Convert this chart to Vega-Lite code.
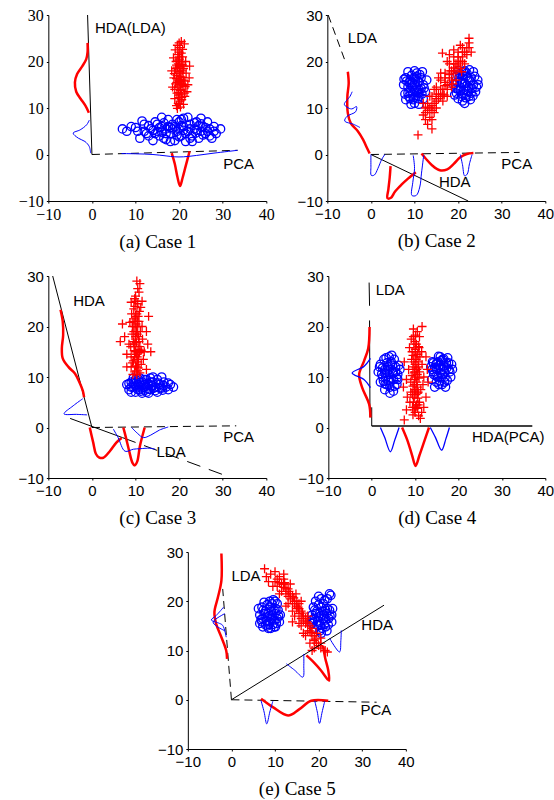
{
"$schema":"https://vega.github.io/schema/vega-lite/v6.json",
"padding":{"left":17,"top":7,"right":5,"bottom":5},
"config":{"view":{"stroke":null},"axis":{"grid":false,"labelFlush":false,"domainColor":"#000","domainWidth":1,"tickColor":"#000","tickSize":2,"labelPadding":3,"labelColor":"#000","labelFont":"Liberation Sans","labelFontSize":15,"titleFont":"Liberation Serif","titleFontSize":19,"titleFontWeight":"normal","titleColor":"#000","titlePadding":10}},
"datasets":{
"a":[
{"k":"s","g":1,"x":0,"y":0},{"k":"s","g":1,"x":-1,"y":30},
{"k":"d","g":2,"x":0,"y":0},{"k":"d","g":2,"x":33.4,"y":0.9},
{"k":"r","g":3,"x":-1,"y":24},{"k":"r","g":3,"x":-1,"y":22},{"k":"r","g":3,"x":-1.3,"y":20.5},{"k":"r","g":3,"x":-2.2,"y":19},{"k":"r","g":3,"x":-3.4,"y":17.3},{"k":"r","g":3,"x":-3.9,"y":15.5},{"k":"r","g":3,"x":-3.6,"y":13.5},{"k":"r","g":3,"x":-2.6,"y":12},{"k":"r","g":3,"x":-1.5,"y":10.5},{"k":"r","g":3,"x":-0.7,"y":9},
{"k":"bl","g":4,"x":-0.6,"y":7.4},{"k":"bl","g":4,"x":-1.2,"y":6.4},{"k":"bl","g":4,"x":-2.7,"y":5.3},{"k":"bl","g":4,"x":-4.3,"y":4.6},{"k":"bl","g":4,"x":-3.1,"y":3.5},{"k":"bl","g":4,"x":-1.6,"y":2.8},{"k":"bl","g":4,"x":-0.6,"y":1.7},{"k":"bl","g":4,"x":-0.3,"y":0.3},
{"k":"bl","g":5,"x":6.8,"y":0.2},{"k":"bl","g":5,"x":10,"y":0.15},{"k":"bl","g":5,"x":14,"y":0},{"k":"bl","g":5,"x":17,"y":-0.3},{"k":"bl","g":5,"x":19,"y":-0.5},{"k":"bl","g":5,"x":21,"y":-0.5},{"k":"bl","g":5,"x":24,"y":-0.2},{"k":"bl","g":5,"x":28,"y":0.3},{"k":"bl","g":5,"x":33.4,"y":0.9},
{"k":"r","g":6,"x":18.3,"y":0.3},{"k":"r","g":6,"x":19,"y":-2},{"k":"r","g":6,"x":19.6,"y":-4.8},{"k":"r","g":6,"x":20.2,"y":-6.8},{"k":"r","g":6,"x":20.8,"y":-5},{"k":"r","g":6,"x":21.5,"y":-2.5},{"k":"r","g":6,"x":22.4,"y":0.7},
{"k":"t","x":0.7,"y":27.1,"label":"HDA(LDA)"},{"k":"t","x":30.1,"y":-2.0,"label":"PCA"},
{"k":"rp","x":20,"y":15},{"k":"rp","x":19.5,"y":17},{"k":"rp","x":20.5,"y":13},{"k":"rp","x":21,"y":16},{"k":"rp","x":19,"y":14},{"k":"rp","x":20.2,"y":19},{"k":"rp","x":19.8,"y":11},{"k":"rp","x":20.8,"y":21},{"k":"rp","x":19.3,"y":20},{"k":"rp","x":21.3,"y":12.5},{"k":"rp","x":20,"y":22},{"k":"rp","x":19.6,"y":23.5},{"k":"rp","x":20.5,"y":24.3},{"k":"rp","x":21.2,"y":23.8},{"k":"rp","x":19,"y":12},{"k":"rp","x":18.8,"y":16.5},{"k":"rp","x":21.6,"y":17.5},{"k":"rp","x":22,"y":15},{"k":"rp","x":18.5,"y":14.5},{"k":"rp","x":20.3,"y":10.2},{"k":"rp","x":19.4,"y":10.5},{"k":"rp","x":21,"y":10.8},{"k":"rp","x":20.7,"y":18},{"k":"rp","x":19.9,"y":16},{"k":"rp","x":20.4,"y":14},{"k":"rp","x":19.2,"y":18.5},{"k":"rp","x":21.5,"y":20},{"k":"rp","x":20,"y":12.2},{"k":"rp","x":20.9,"y":14.8},{"k":"rp","x":19.7,"y":21.5},{"k":"rp","x":22.4,"y":19},{"k":"rp","x":18.3,"y":18},{"k":"rp","x":20.1,"y":20.5},{"k":"rp","x":21.8,"y":13.5},{"k":"rp","x":19.1,"y":22.5},{"k":"rp","x":20.6,"y":11.8},{"k":"rp","x":20.2,"y":16.8},{"k":"rp","x":19.5,"y":13.2},{"k":"rp","x":21.1,"y":19},{"k":"rp","x":18.7,"y":20.8},{"k":"rp","x":22.3,"y":16.5},{"k":"rp","x":20,"y":24},{"k":"rp","x":19.6,"y":9.9},{"k":"rp","x":21.4,"y":14.6},{"k":"rp","x":20.8,"y":22.6},
{"k":"rp","x":20,"y":18},{"k":"rp","x":20.5,"y":16},{"k":"rp","x":19.5,"y":15.5},{"k":"rp","x":20.3,"y":13.8},{"k":"rp","x":19.8,"y":19.5},{"k":"rp","x":20.6,"y":20},{"k":"rp","x":19.9,"y":12.8},{"k":"rp","x":20.4,"y":17.5},{"k":"rp","x":19.4,"y":16.3},{"k":"rp","x":21,"y":18.5},{"k":"rp","x":20,"y":21},{"k":"rp","x":20.7,"y":15.2},{"k":"rp","x":19.6,"y":18.8},{"k":"rp","x":20.2,"y":11.5},{"k":"rp","x":21.2,"y":13.2},
{"k":"rp","x":19.7,"y":14.5},{"k":"rp","x":20.3,"y":15.7},{"k":"rp","x":20.1,"y":17.8},{"k":"rp","x":19.9,"y":13.3},{"k":"rp","x":20.6,"y":12.3},{"k":"rp","x":19.4,"y":19.2},{"k":"rp","x":20.5,"y":21.8},{"k":"rp","x":20,"y":10.8},{"k":"rp","x":20.9,"y":16.6},{"k":"rp","x":19.2,"y":15.2},{"k":"rp","x":20.2,"y":23},{"k":"rp","x":19.8,"y":20.3},{"k":"rp","x":21.3,"y":15.8},{"k":"rp","x":18.9,"y":17.4},{"k":"rp","x":20.7,"y":19.3},
{"k":"bc","x":7,"y":5.5},{"k":"bc","x":8,"y":5},{"k":"bc","x":9,"y":6},{"k":"bc","x":10.5,"y":5},{"k":"bc","x":11,"y":3.5},{"k":"bc","x":12,"y":6.5},{"k":"bc","x":12.5,"y":4.5},{"k":"bc","x":13.5,"y":5.5},{"k":"bc","x":14,"y":3},{"k":"bc","x":14.5,"y":7},{"k":"bc","x":15,"y":5},{"k":"bc","x":15.5,"y":4},{"k":"bc","x":16,"y":6},{"k":"bc","x":16.5,"y":3.5},{"k":"bc","x":17,"y":5.5},{"k":"bc","x":17.5,"y":7.5},{"k":"bc","x":18,"y":4.5},{"k":"bc","x":18.5,"y":6.5},{"k":"bc","x":19,"y":3},{"k":"bc","x":19.5,"y":5},{"k":"bc","x":20,"y":7},{"k":"bc","x":20.5,"y":4},{"k":"bc","x":21,"y":6},{"k":"bc","x":21.5,"y":2.8},{"k":"bc","x":22,"y":5},{"k":"bc","x":22,"y":8},{"k":"bc","x":22.5,"y":6.5},{"k":"bc","x":23,"y":4},{"k":"bc","x":23.5,"y":5.5},{"k":"bc","x":24,"y":7},{"k":"bc","x":24.5,"y":3.5},{"k":"bc","x":25,"y":5},{"k":"bc","x":25.5,"y":6},{"k":"bc","x":26,"y":4.5},{"k":"bc","x":26.5,"y":7},{"k":"bc","x":27,"y":5.5},{"k":"bc","x":27.5,"y":3.5},{"k":"bc","x":28,"y":6},{"k":"bc","x":28.5,"y":4.5},{"k":"bc","x":29.5,"y":5.5},{"k":"bc","x":11.5,"y":7.2},{"k":"bc","x":13,"y":4},{"k":"bc","x":16,"y":8},{"k":"bc","x":18,"y":2.8},{"k":"bc","x":20,"y":5.5},{"k":"bc","x":21,"y":7.8},{"k":"bc","x":23,"y":2.8},{"k":"bc","x":25,"y":7.8},{"k":"bc","x":27,"y":4},{"k":"bc","x":19,"y":6},{"k":"bc","x":17,"y":4.5},{"k":"bc","x":15,"y":6.5},{"k":"bc","x":20,"y":3.8},{"k":"bc","x":14,"y":5.2},{"k":"bc","x":24,"y":5.2},
{"k":"bc","x":18.5,"y":5.5},{"k":"bc","x":21.5,"y":4.5},{"k":"bc","x":22.5,"y":5.5},{"k":"bc","x":17.5,"y":6},{"k":"bc","x":19.5,"y":7.5},{"k":"bc","x":23.5,"y":6.8},{"k":"bc","x":16,"y":4.8},{"k":"bc","x":25.5,"y":4.2},{"k":"bc","x":24.5,"y":6.2},{"k":"bc","x":20.5,"y":6.2},{"k":"bc","x":13,"y":6.2},{"k":"bc","x":26,"y":5.8},
{"k":"bc","x":10,"y":5.8},{"k":"bc","x":12,"y":5},{"k":"bc","x":14.5,"y":4.5},{"k":"bc","x":16.5,"y":6.8},{"k":"bc","x":18,"y":5.8},{"k":"bc","x":19.5,"y":4.2},{"k":"bc","x":21,"y":5.2},{"k":"bc","x":22.5,"y":3.5},{"k":"bc","x":23.8,"y":4.6},{"k":"bc","x":25,"y":6.6},{"k":"bc","x":26.5,"y":5},{"k":"bc","x":28,"y":5},{"k":"bc","x":17,"y":3.2},{"k":"bc","x":20.5,"y":7.5},{"k":"bc","x":15.5,"y":5.8}
],
"b":[
{"k":"s","g":1,"x":0,"y":0},{"k":"s","g":1,"x":22.3,"y":-10},
{"k":"d","g":2,"x":0,"y":0},{"k":"d","g":2,"x":34.1,"y":0.45},
{"k":"d","g":3,"x":-9.8,"y":30},{"k":"d","g":3,"x":-6,"y":20.3},
{"k":"r","g":4,"x":-5.3,"y":17.8},{"k":"r","g":4,"x":-5.1,"y":15.3},{"k":"r","g":4,"x":-5.4,"y":12.5},{"k":"r","g":4,"x":-5.3,"y":8.9},{"k":"r","g":4,"x":-4.6,"y":6.7},{"k":"r","g":4,"x":-3,"y":5},{"k":"r","g":4,"x":-1.8,"y":3.2},{"k":"r","g":4,"x":-0.9,"y":1.4},{"k":"r","g":4,"x":-0.3,"y":0.2},
{"k":"r","g":5,"x":4.5,"y":-2.5},{"k":"r","g":5,"x":4.3,"y":-5},{"k":"r","g":5,"x":4.0,"y":-7.5},{"k":"r","g":5,"x":3.8,"y":-9.4},{"k":"r","g":5,"x":4.6,"y":-9.3},{"k":"r","g":5,"x":5.5,"y":-8},{"k":"r","g":5,"x":7,"y":-6.5},{"k":"r","g":5,"x":8.5,"y":-5.2},{"k":"r","g":5,"x":10.3,"y":-3.8},
{"k":"r","g":6,"x":11.6,"y":0.2},{"k":"r","g":6,"x":12.5,"y":-0.8},{"k":"r","g":6,"x":14,"y":-2.3},{"k":"r","g":6,"x":15.8,"y":-3.4},{"k":"r","g":6,"x":17.5,"y":-3.2},{"k":"r","g":6,"x":19,"y":-2},{"k":"r","g":6,"x":20.5,"y":-0.6},{"k":"r","g":6,"x":22,"y":0.1},{"k":"r","g":6,"x":23.5,"y":0.3},
{"k":"bl","g":7,"x":-4.3,"y":13.5},{"k":"bl","g":7,"x":-4.8,"y":12.5},{"k":"bl","g":7,"x":-6.1,"y":10.8},{"k":"bl","g":7,"x":-5.5,"y":10.2},{"k":"bl","g":7,"x":-4.4,"y":9.8},{"k":"bl","g":7,"x":-3.3,"y":10.3},{"k":"bl","g":7,"x":-3.5,"y":9.2},{"k":"bl","g":7,"x":-5.5,"y":8.2},{"k":"bl","g":7,"x":-6,"y":7.2},{"k":"bl","g":7,"x":-4,"y":6.5},{"k":"bl","g":7,"x":-2.5,"y":5.8},
{"k":"bl","g":8,"x":0,"y":0},{"k":"bl","g":8,"x":0,"y":-2.5},{"k":"bl","g":8,"x":0.1,"y":-4.5},{"k":"bl","g":8,"x":0.8,"y":-4.4},{"k":"bl","g":8,"x":1.6,"y":-3},{"k":"bl","g":8,"x":2.5,"y":-1},{"k":"bl","g":8,"x":3.2,"y":0},
{"k":"bl","g":9,"x":9.7,"y":-0.2},{"k":"bl","g":9,"x":10,"y":-3},{"k":"bl","g":9,"x":9.6,"y":-6},{"k":"bl","g":9,"x":9.4,"y":-8.8},{"k":"bl","g":9,"x":10.4,"y":-8.8},{"k":"bl","g":9,"x":11.2,"y":-7},{"k":"bl","g":9,"x":11.6,"y":-4},{"k":"bl","g":9,"x":12.1,"y":-0.2},
{"k":"bl","g":10,"x":20.5,"y":0},{"k":"bl","g":10,"x":21,"y":-2.2},{"k":"bl","g":10,"x":21.5,"y":-4.6},{"k":"bl","g":10,"x":22.1,"y":-4.2},{"k":"bl","g":10,"x":22.6,"y":-2},{"k":"bl","g":10,"x":23.2,"y":0},
{"k":"t","x":-5.3,"y":25.1,"label":"LDA"},{"k":"t","x":29.9,"y":-2.05,"label":"PCA"},{"k":"t","x":15.6,"y":-6.0,"label":"HDA"},
{"k":"bc","x":10,"y":15},{"k":"bc","x":9,"y":16},{"k":"bc","x":11,"y":14},{"k":"bc","x":8.5,"y":14.5},{"k":"bc","x":11.5,"y":16.5},{"k":"bc","x":9.5,"y":13},{"k":"bc","x":10.5,"y":17.5},{"k":"bc","x":8,"y":16.5},{"k":"bc","x":12,"y":15},{"k":"bc","x":9,"y":12},{"k":"bc","x":11,"y":12.5},{"k":"bc","x":10,"y":11},{"k":"bc","x":7.5,"y":15},{"k":"bc","x":12.5,"y":13.5},{"k":"bc","x":10,"y":18},{"k":"bc","x":8.5,"y":17.8},{"k":"bc","x":11.8,"y":17.8},{"k":"bc","x":9.5,"y":14.5},{"k":"bc","x":10.8,"y":15.8},{"k":"bc","x":7.8,"y":13},{"k":"bc","x":12.8,"y":16},{"k":"bc","x":9.2,"y":10.8},{"k":"bc","x":11,"y":10.8},{"k":"bc","x":10,"y":16.5},{"k":"bc","x":10.5,"y":13.5},{"k":"bc","x":8.8,"y":15.5},{"k":"bc","x":11.5,"y":14.2},{"k":"bc","x":9.8,"y":12.2},{"k":"bc","x":12,"y":12},{"k":"bc","x":8,"y":11.8},
{"k":"bc","x":9.5,"y":15.5},{"k":"bc","x":10.5,"y":14.5},{"k":"bc","x":9,"y":13.5},{"k":"bc","x":11,"y":15.5},{"k":"bc","x":10,"y":13.8},{"k":"bc","x":10.2,"y":16.2},{"k":"bc","x":8.5,"y":13.2},{"k":"bc","x":11.7,"y":13},{"k":"bc","x":9.3,"y":17},{"k":"bc","x":10.8,"y":12},{"k":"bc","x":8.2,"y":15.8},{"k":"bc","x":11.2,"y":17.2},{"k":"bc","x":9.7,"y":11.8},{"k":"bc","x":12.2,"y":14.3},{"k":"bc","x":7.6,"y":16.2},{"k":"bc","x":10.5,"y":16.8},{"k":"bc","x":9,"y":15},{"k":"bc","x":11,"y":13.2},{"k":"bc","x":8.7,"y":12.5},{"k":"bc","x":10.3,"y":12.6},
{"k":"bc","x":21.5,"y":15.3},{"k":"bc","x":20.5,"y":16},{"k":"bc","x":22.5,"y":14.5},{"k":"bc","x":20,"y":14},{"k":"bc","x":23,"y":16.5},{"k":"bc","x":21,"y":13},{"k":"bc","x":22,"y":17.5},{"k":"bc","x":19.5,"y":16.8},{"k":"bc","x":23.5,"y":15},{"k":"bc","x":21,"y":11.5},{"k":"bc","x":22.5,"y":12.5},{"k":"bc","x":19,"y":15},{"k":"bc","x":24,"y":13.5},{"k":"bc","x":21.5,"y":18},{"k":"bc","x":20,"y":18},{"k":"bc","x":23.5,"y":17.8},{"k":"bc","x":21.8,"y":14},{"k":"bc","x":20.8,"y":15.2},{"k":"bc","x":22.8,"y":15.8},{"k":"bc","x":19.2,"y":12.8},{"k":"bc","x":24.5,"y":16},{"k":"bc","x":21.5,"y":11},{"k":"bc","x":20,"y":12},{"k":"bc","x":22.2,"y":16.5},{"k":"bc","x":21,"y":17},{"k":"bc","x":23,"y":13.2},{"k":"bc","x":19.5,"y":14.2},{"k":"bc","x":24.2,"y":14.5},{"k":"bc","x":20.5,"y":13.8},{"k":"bc","x":22.8,"y":11.8},
{"k":"bc","x":21,"y":15.5},{"k":"bc","x":22,"y":14.8},{"k":"bc","x":20.5,"y":14.5},{"k":"bc","x":22.5,"y":16},{"k":"bc","x":21.3,"y":13.8},{"k":"bc","x":21.8,"y":16.8},{"k":"bc","x":20.2,"y":16.5},{"k":"bc","x":23.2,"y":14.2},{"k":"bc","x":20.8,"y":12.5},{"k":"bc","x":22,"y":12.8},{"k":"bc","x":19.8,"y":15.5},{"k":"bc","x":23.8,"y":16.8},{"k":"bc","x":21.2,"y":17.8},{"k":"bc","x":22.6,"y":18.2},{"k":"bc","x":19.6,"y":13.2},{"k":"bc","x":24.6,"y":15},{"k":"bc","x":20.4,"y":17.4},{"k":"bc","x":21.7,"y":12.2},{"k":"bc","x":23.4,"y":12.6},{"k":"bc","x":22.3,"y":13.6},
{"k":"rp","x":12,"y":8.5},{"k":"rp","x":12.5,"y":7.5},{"k":"rp","x":13,"y":9.5},{"k":"rp","x":13.5,"y":8},{"k":"rp","x":13,"y":11},{"k":"rp","x":14,"y":10.5},{"k":"rp","x":14.5,"y":9},{"k":"rp","x":14,"y":12.5},{"k":"rp","x":15,"y":11.5},{"k":"rp","x":15.5,"y":13},{"k":"rp","x":15,"y":14.5},{"k":"rp","x":16,"y":12.5},{"k":"rp","x":16.5,"y":14},{"k":"rp","x":16,"y":16},{"k":"rp","x":17,"y":15.5},{"k":"rp","x":17.5,"y":14},{"k":"rp","x":17,"y":17.5},{"k":"rp","x":18,"y":16.5},{"k":"rp","x":18.5,"y":18},{"k":"rp","x":18,"y":19.5},{"k":"rp","x":19,"y":17.5},{"k":"rp","x":19.5,"y":19.5},{"k":"rp","x":19,"y":21},{"k":"rp","x":20,"y":20},{"k":"rp","x":20.5,"y":18.5},{"k":"rp","x":20,"y":22},{"k":"rp","x":21,"y":21},{"k":"rp","x":21.5,"y":19.5},{"k":"rp","x":21,"y":23},{"k":"rp","x":22,"y":21.5},{"k":"rp","x":22.5,"y":23},{"k":"rp","x":22.5,"y":25},{"k":"rp","x":22.5,"y":24},{"k":"rp","x":23,"y":22},{"k":"rp","x":12,"y":11},{"k":"rp","x":13.5,"y":12.5},{"k":"rp","x":15,"y":10},{"k":"rp","x":16.5,"y":11.5},{"k":"rp","x":17.5,"y":12.5},{"k":"rp","x":14.5,"y":14},{"k":"rp","x":16,"y":17.5},{"k":"rp","x":18,"y":21.5},{"k":"rp","x":19.5,"y":16},{"k":"rp","x":13,"y":6.5},{"k":"rp","x":14,"y":5.5},{"k":"rp","x":10.8,"y":4.2},{"k":"rp","x":12.5,"y":10},{"k":"rp","x":17.5,"y":20},{"k":"rp","x":20.5,"y":23.5},{"k":"rp","x":15.5,"y":16.5},{"k":"rp","x":18.5,"y":14.5},{"k":"rp","x":19,"y":22.5},{"k":"rp","x":14,"y":7.5},{"k":"rp","x":16.4,"y":21.8},
{"k":"rp","x":14.5,"y":11},{"k":"rp","x":15.5,"y":12},{"k":"rp","x":16.5,"y":13},{"k":"rp","x":17.5,"y":15},{"k":"rp","x":18.5,"y":16},{"k":"rp","x":19.5,"y":18},{"k":"rp","x":20.5,"y":20},{"k":"rp","x":21.5,"y":22},{"k":"rp","x":13.5,"y":10},{"k":"rp","x":15,"y":13},{"k":"rp","x":16,"y":14},{"k":"rp","x":17,"y":16.5},{"k":"rp","x":18,"y":18},{"k":"rp","x":19,"y":19.5},{"k":"rp","x":20,"y":21},{"k":"rp","x":21,"y":20},{"k":"rp","x":22,"y":23},{"k":"rp","x":12.5,"y":9},{"k":"rp","x":14,"y":9.5},{"k":"rp","x":16.8,"y":12.8},{"k":"rp","x":18.8,"y":15.2},{"k":"rp","x":20.8,"y":17.8},
{"k":"rp","x":15,"y":12},{"k":"rp","x":17,"y":14.8},{"k":"rp","x":19,"y":18.6},{"k":"rp","x":21,"y":22},{"k":"rp","x":13,"y":10.2},{"k":"rp","x":18,"y":17.2},{"k":"rp","x":20,"y":19}
],
"c":[
{"k":"s","g":1,"x":0,"y":0},{"k":"s","g":1,"x":-9,"y":30},
{"k":"s","g":2,"x":-5,"y":1.8},{"k":"s","g":2,"x":7,"y":-2.0},
{"k":"ld","g":3,"x":7,"y":-2.0},{"k":"ld","g":3,"x":31.2,"y":-9.7},
{"k":"d","g":4,"x":0,"y":0},{"k":"d","g":4,"x":33.1,"y":0.33},
{"k":"r","g":5,"x":-7.2,"y":23.3},{"k":"r","g":5,"x":-6.7,"y":21},{"k":"r","g":5,"x":-6.6,"y":18.3},{"k":"r","g":5,"x":-6.9,"y":15.7},{"k":"r","g":5,"x":-6.7,"y":13.7},{"k":"r","g":5,"x":-5.4,"y":12},{"k":"r","g":5,"x":-3.9,"y":10.7},{"k":"r","g":5,"x":-2.9,"y":9},{"k":"r","g":5,"x":-2.1,"y":7.3},{"k":"r","g":5,"x":-1.8,"y":6},
{"k":"bl","g":6,"x":-2.1,"y":5.7},{"k":"bl","g":6,"x":-4.3,"y":4.3},{"k":"bl","g":6,"x":-6.4,"y":2.7},{"k":"bl","g":6,"x":-3.5,"y":2.6},{"k":"bl","g":6,"x":-1.1,"y":2.5},
{"k":"r","g":7,"x":-0.5,"y":0},{"k":"r","g":7,"x":0.3,"y":-3},{"k":"r","g":7,"x":0.9,"y":-5.2},{"k":"r","g":7,"x":1.6,"y":-5.9},{"k":"r","g":7,"x":2.6,"y":-6},{"k":"r","g":7,"x":4.1,"y":-4.7},{"k":"r","g":7,"x":5.6,"y":-3},{"k":"r","g":7,"x":6.8,"y":-2.1},
{"k":"r","g":8,"x":7.2,"y":0},{"k":"r","g":8,"x":7.8,"y":-2},{"k":"r","g":8,"x":8.5,"y":-4.5},{"k":"r","g":8,"x":9.3,"y":-7},{"k":"r","g":8,"x":9.8,"y":-7.5},{"k":"r","g":8,"x":10.4,"y":-6.7},{"k":"r","g":8,"x":11,"y":-3.7},{"k":"r","g":8,"x":12.1,"y":0},
{"k":"bl","g":9,"x":4.9,"y":-0.3},{"k":"bl","g":9,"x":6,"y":-2},{"k":"bl","g":9,"x":7.6,"y":-4.7},{"k":"bl","g":9,"x":9.5,"y":-4.3},{"k":"bl","g":9,"x":11,"y":-4.2},{"k":"bl","g":9,"x":13.3,"y":-4.1},{"k":"bl","g":9,"x":14.5,"y":-4.3},
{"k":"bl","g":10,"x":9.1,"y":0},{"k":"bl","g":10,"x":10.5,"y":-1.2},{"k":"bl","g":10,"x":11.8,"y":-2},{"k":"bl","g":10,"x":13.5,"y":-1.5},{"k":"bl","g":10,"x":15.5,"y":-0.5},{"k":"bl","g":10,"x":17.5,"y":0.1},
{"k":"t","x":-4.3,"y":25.1,"label":"HDA"},{"k":"t","x":14.8,"y":-4.9,"label":"LDA"},{"k":"t","x":30.1,"y":-1.8,"label":"PCA"},
{"k":"bc","x":8,"y":8.5},{"k":"bc","x":8.5,"y":7.5},{"k":"bc","x":9,"y":9},{"k":"bc","x":9.5,"y":8},{"k":"bc","x":10,"y":7},{"k":"bc","x":10,"y":9.5},{"k":"bc","x":10.5,"y":8.5},{"k":"bc","x":11,"y":7.5},{"k":"bc","x":11.5,"y":9},{"k":"bc","x":12,"y":8},{"k":"bc","x":12.5,"y":7},{"k":"bc","x":12.5,"y":9.5},{"k":"bc","x":13,"y":8.5},{"k":"bc","x":13.5,"y":7.5},{"k":"bc","x":14,"y":9},{"k":"bc","x":14.5,"y":8},{"k":"bc","x":15,"y":7},{"k":"bc","x":15,"y":9.5},{"k":"bc","x":15.5,"y":8.5},{"k":"bc","x":16,"y":7.8},{"k":"bc","x":16.5,"y":9},{"k":"bc","x":17,"y":8},{"k":"bc","x":17.5,"y":7.5},{"k":"bc","x":18,"y":8.5},{"k":"bc","x":18.7,"y":8},{"k":"bc","x":9,"y":7},{"k":"bc","x":11,"y":9.8},{"k":"bc","x":13,"y":6.8},{"k":"bc","x":14,"y":10},{"k":"bc","x":16,"y":10},{"k":"bc","x":11.5,"y":6.8},{"k":"bc","x":9.5,"y":9.8},{"k":"bc","x":12,"y":8.5},{"k":"bc","x":10.8,"y":8},{"k":"bc","x":13.8,"y":8.3},
{"k":"bc","x":9.5,"y":8.8},{"k":"bc","x":10.5,"y":7.5},{"k":"bc","x":11.5,"y":8.3},{"k":"bc","x":12.5,"y":8.2},{"k":"bc","x":13.5,"y":9},{"k":"bc","x":14.5,"y":7.3},{"k":"bc","x":15.5,"y":7.8},{"k":"bc","x":10,"y":8.2},{"k":"bc","x":11,"y":8.9},{"k":"bc","x":13,"y":7.6},{"k":"bc","x":16.5,"y":8.3},{"k":"bc","x":17.5,"y":8.8},{"k":"bc","x":8.5,"y":8.7},{"k":"bc","x":12,"y":9.5},{"k":"bc","x":14,"y":8.3},
{"k":"bc","x":9,"y":8},{"k":"bc","x":10.2,"y":9},{"k":"bc","x":11.2,"y":7.2},{"k":"bc","x":12.8,"y":8.8},{"k":"bc","x":14.2,"y":7.8},{"k":"bc","x":15.2,"y":8.8},{"k":"bc","x":16.2,"y":7.4},{"k":"bc","x":10.6,"y":9.6},{"k":"bc","x":12.2,"y":7.4},{"k":"bc","x":13.4,"y":9.8},
{"k":"rp","x":10,"y":15},{"k":"rp","x":9.5,"y":17},{"k":"rp","x":10.5,"y":13},{"k":"rp","x":11,"y":16},{"k":"rp","x":9,"y":14},{"k":"rp","x":10.2,"y":19},{"k":"rp","x":9.8,"y":11},{"k":"rp","x":10.8,"y":21},{"k":"rp","x":9.3,"y":20},{"k":"rp","x":11.3,"y":12.5},{"k":"rp","x":10,"y":22},{"k":"rp","x":9.6,"y":23.5},{"k":"rp","x":10.5,"y":24.5},{"k":"rp","x":11.2,"y":23.8},{"k":"rp","x":9,"y":12},{"k":"rp","x":8.5,"y":16.5},{"k":"rp","x":11.6,"y":17.5},{"k":"rp","x":12,"y":15},{"k":"rp","x":8,"y":14.5},{"k":"rp","x":10.3,"y":10.5},{"k":"rp","x":9.4,"y":10.5},{"k":"rp","x":11,"y":10.8},{"k":"rp","x":10.7,"y":18},{"k":"rp","x":9.9,"y":16},{"k":"rp","x":10.4,"y":14},{"k":"rp","x":9.2,"y":18.5},{"k":"rp","x":11.5,"y":20},{"k":"rp","x":10,"y":12.2},{"k":"rp","x":10.9,"y":14.8},{"k":"rp","x":9.7,"y":21.5},{"k":"rp","x":12.5,"y":19},{"k":"rp","x":7.5,"y":18},{"k":"rp","x":10.1,"y":20.5},{"k":"rp","x":11.8,"y":13.5},{"k":"rp","x":9.1,"y":22.5},{"k":"rp","x":10.6,"y":11.8},{"k":"rp","x":10.2,"y":16.8},{"k":"rp","x":9.5,"y":13.2},{"k":"rp","x":11.1,"y":19},{"k":"rp","x":8.7,"y":20.8},{"k":"rp","x":12.8,"y":16.5},{"k":"rp","x":10,"y":26},{"k":"rp","x":10.5,"y":27.5},{"k":"rp","x":11,"y":28.5},{"k":"rp","x":9.8,"y":25.5},{"k":"rp","x":10.8,"y":26.8},{"k":"rp","x":6.5,"y":17},{"k":"rp","x":13.5,"y":15},{"k":"rp","x":7,"y":20.5},{"k":"rp","x":13,"y":22},{"k":"rp","x":8,"y":12},{"k":"rp","x":12.5,"y":11.5},{"k":"rp","x":11.5,"y":25},{"k":"rp","x":9,"y":24.8},{"k":"rp","x":10.3,"y":29},{"k":"rp","x":10.9,"y":23},
{"k":"rp","x":10,"y":18},{"k":"rp","x":10.5,"y":20},{"k":"rp","x":9.8,"y":14},{"k":"rp","x":10.2,"y":12},{"k":"rp","x":9.6,"y":19},{"k":"rp","x":10.6,"y":15.5},{"k":"rp","x":10,"y":17.5},{"k":"rp","x":10.3,"y":22.5},{"k":"rp","x":9.9,"y":24},{"k":"rp","x":10.7,"y":13.5},{"k":"rp","x":9.7,"y":15.2},{"k":"rp","x":10.4,"y":21},
{"k":"rp","x":10.2,"y":14.5},{"k":"rp","x":9.7,"y":16.5},{"k":"rp","x":10.4,"y":18.5},{"k":"rp","x":9.9,"y":20},{"k":"rp","x":10.6,"y":22},{"k":"rp","x":10.1,"y":25},{"k":"rp","x":9.4,"y":21},{"k":"rp","x":10.8,"y":17},{"k":"rp","x":9.3,"y":12.8},{"k":"rp","x":10.5,"y":11.2},{"k":"rp","x":11.3,"y":15.3},{"k":"rp","x":8.9,"y":16}
],
"d":[
{"k":"s","g":1,"x":-0.6,"y":28.7},{"k":"s","g":1,"x":-0.5,"y":24.1},
{"k":"s","g":2,"x":-0.5,"y":21.2},{"k":"s","g":2,"x":-0.4,"y":2},
{"k":"s","g":3,"x":0,"y":4},{"k":"s","g":3,"x":0,"y":0.3},
{"k":"gr","g":4,"x":0,"y":0.3},{"k":"gr","g":4,"x":37,"y":0.3},
{"k":"r","g":5,"x":-0.5,"y":19.9},{"k":"r","g":5,"x":-0.8,"y":15.7},{"k":"r","g":5,"x":-1.8,"y":13.1},{"k":"r","g":5,"x":-2.9,"y":10.5},{"k":"r","g":5,"x":-2.2,"y":7.9},{"k":"r","g":5,"x":-0.6,"y":4.6},{"k":"r","g":5,"x":-0.3,"y":2},
{"k":"bl","g":6,"x":-0.3,"y":13.7},{"k":"bl","g":6,"x":-1.8,"y":12.1},{"k":"bl","g":6,"x":-4.5,"y":10.8},{"k":"bl","g":6,"x":-1.8,"y":9.5},{"k":"bl","g":6,"x":-0.3,"y":7.9},
{"k":"bl","g":7,"x":2,"y":0},{"k":"bl","g":7,"x":3,"y":-2},{"k":"bl","g":7,"x":4.3,"y":-4.8},{"k":"bl","g":7,"x":5.3,"y":-2.5},{"k":"bl","g":7,"x":6.3,"y":0},
{"k":"r","g":8,"x":7,"y":0},{"k":"r","g":8,"x":8.2,"y":-2.5},{"k":"r","g":8,"x":9.3,"y":-5.5},{"k":"r","g":8,"x":10.1,"y":-7.6},{"k":"r","g":8,"x":11,"y":-5.5},{"k":"r","g":8,"x":12.2,"y":-2.5},{"k":"r","g":8,"x":13.2,"y":0},
{"k":"bl","g":9,"x":13.5,"y":0},{"k":"bl","g":9,"x":14.7,"y":-2},{"k":"bl","g":9,"x":16.1,"y":-4.5},{"k":"bl","g":9,"x":17.1,"y":-2.2},{"k":"bl","g":9,"x":17.9,"y":0},
{"k":"t","x":0.9,"y":27.3,"label":"LDA"},{"k":"t","x":23.1,"y":-1.9,"label":"HDA(PCA)"},
{"k":"bc","x":4,"y":10.5},{"k":"bc","x":3,"y":11.5},{"k":"bc","x":5,"y":9.5},{"k":"bc","x":2.5,"y":10},{"k":"bc","x":5.5,"y":12},{"k":"bc","x":3.5,"y":8.5},{"k":"bc","x":4.5,"y":13},{"k":"bc","x":2,"y":12.5},{"k":"bc","x":6,"y":10.5},{"k":"bc","x":3,"y":7.5},{"k":"bc","x":5,"y":7.2},{"k":"bc","x":4,"y":14},{"k":"bc","x":2,"y":9},{"k":"bc","x":6.5,"y":11.5},{"k":"bc","x":1.5,"y":11},{"k":"bc","x":3.8,"y":12},{"k":"bc","x":4.8,"y":11},{"k":"bc","x":3.2,"y":9.8},{"k":"bc","x":5.8,"y":8.5},{"k":"bc","x":2.8,"y":13.5},{"k":"bc","x":5.2,"y":13.5},{"k":"bc","x":4.2,"y":6.8},{"k":"bc","x":4.3,"y":9},{"k":"bc","x":3.5,"y":10.8},{"k":"bc","x":5,"y":10.8},
{"k":"bc","x":4,"y":11.5},{"k":"bc","x":3.5,"y":12.8},{"k":"bc","x":4.5,"y":9.8},{"k":"bc","x":3,"y":10.8},{"k":"bc","x":5.5,"y":11},{"k":"bc","x":4.2,"y":8},{"k":"bc","x":2.5,"y":11.8},{"k":"bc","x":5.8,"y":9.8},{"k":"bc","x":3.3,"y":13.8},{"k":"bc","x":4.8,"y":12.3},{"k":"bc","x":2.3,"y":10.6},{"k":"bc","x":6.2,"y":12.3},{"k":"bc","x":3.8,"y":9.3},{"k":"bc","x":5.3,"y":8.2},{"k":"bc","x":1.8,"y":12},{"k":"bc","x":4.6,"y":14.3},{"k":"bc","x":3.1,"y":8.6},{"k":"bc","x":6,"y":9.5},{"k":"bc","x":4.4,"y":12.7},{"k":"bc","x":2.7,"y":9.2},
{"k":"bc","x":15.8,"y":11.8},{"k":"bc","x":14.8,"y":12.5},{"k":"bc","x":16.8,"y":11},{"k":"bc","x":14.2,"y":11},{"k":"bc","x":17.2,"y":12.8},{"k":"bc","x":15.2,"y":10},{"k":"bc","x":16.3,"y":13.5},{"k":"bc","x":14,"y":13},{"k":"bc","x":17.8,"y":11.5},{"k":"bc","x":15.5,"y":8.5},{"k":"bc","x":16.8,"y":9},{"k":"bc","x":13.8,"y":9.5},{"k":"bc","x":18.2,"y":10},{"k":"bc","x":15.8,"y":14},{"k":"bc","x":17.5,"y":13.8},{"k":"bc","x":14.5,"y":8},{"k":"bc","x":16.2,"y":10.5},{"k":"bc","x":15,"y":11.5},{"k":"bc","x":16.5,"y":12.2},{"k":"bc","x":13.6,"y":12},{"k":"bc","x":18.4,"y":12.5},{"k":"bc","x":17,"y":8},{"k":"bc","x":15.3,"y":13},{"k":"bc","x":16,"y":9.8},{"k":"bc","x":14.8,"y":10.2},
{"k":"bc","x":15.5,"y":12.3},{"k":"bc","x":16.5,"y":11.5},{"k":"bc","x":15,"y":12.8},{"k":"bc","x":17.3,"y":11.8},{"k":"bc","x":14.5,"y":11.8},{"k":"bc","x":16,"y":13.2},{"k":"bc","x":15.7,"y":9.2},{"k":"bc","x":17.7,"y":12.8},{"k":"bc","x":14.3,"y":10.5},{"k":"bc","x":16.9,"y":10},{"k":"bc","x":15.8,"y":10.8},{"k":"bc","x":18,"y":11},{"k":"bc","x":13.9,"y":11.5},{"k":"bc","x":17.4,"y":9.3},{"k":"bc","x":16.6,"y":13.6},{"k":"bc","x":14.9,"y":9},{"k":"bc","x":18.6,"y":11.5},{"k":"bc","x":15.4,"y":14.1},{"k":"bc","x":16.2,"y":8.5},{"k":"bc","x":14.2,"y":12.8},
{"k":"rp","x":10,"y":10},{"k":"rp","x":9.5,"y":12},{"k":"rp","x":10.5,"y":8},{"k":"rp","x":11,"y":11},{"k":"rp","x":9,"y":9},{"k":"rp","x":10.2,"y":14},{"k":"rp","x":9.8,"y":6},{"k":"rp","x":10.8,"y":16},{"k":"rp","x":9.3,"y":15},{"k":"rp","x":11.3,"y":7.5},{"k":"rp","x":10,"y":17},{"k":"rp","x":9.6,"y":18},{"k":"rp","x":10.5,"y":19},{"k":"rp","x":11.6,"y":20},{"k":"rp","x":9,"y":7},{"k":"rp","x":8.5,"y":11.5},{"k":"rp","x":11.6,"y":12.5},{"k":"rp","x":12,"y":10},{"k":"rp","x":8,"y":9.5},{"k":"rp","x":10.3,"y":4.5},{"k":"rp","x":9.4,"y":4},{"k":"rp","x":11,"y":5},{"k":"rp","x":10.7,"y":13},{"k":"rp","x":9.9,"y":11},{"k":"rp","x":10.4,"y":9},{"k":"rp","x":9.2,"y":13.5},{"k":"rp","x":11.5,"y":15},{"k":"rp","x":10,"y":7.2},{"k":"rp","x":10.9,"y":9.8},{"k":"rp","x":9.7,"y":16.5},{"k":"rp","x":12.5,"y":14},{"k":"rp","x":7.5,"y":13},{"k":"rp","x":10.1,"y":15.5},{"k":"rp","x":11.8,"y":8.5},{"k":"rp","x":9.1,"y":17.5},{"k":"rp","x":10.6,"y":6.8},{"k":"rp","x":10.2,"y":11.8},{"k":"rp","x":9.5,"y":8.2},{"k":"rp","x":11.1,"y":14},{"k":"rp","x":8.7,"y":15.8},{"k":"rp","x":12.8,"y":11.5},{"k":"rp","x":10,"y":3},{"k":"rp","x":8,"y":3.5},{"k":"rp","x":12,"y":4},{"k":"rp","x":10.8,"y":2.3},{"k":"rp","x":7.5,"y":1.5},{"k":"rp","x":9.5,"y":2.5},{"k":"rp","x":11.5,"y":3},{"k":"rp","x":12.5,"y":6},{"k":"rp","x":8.2,"y":6},{"k":"rp","x":13,"y":9},{"k":"rp","x":7.3,"y":8},{"k":"rp","x":9.6,"y":19.5},{"k":"rp","x":11,"y":18},{"k":"rp","x":8.8,"y":5},{"k":"rp","x":11.2,"y":1.8},
{"k":"rp","x":10,"y":12.5},{"k":"rp","x":10.5,"y":10.5},{"k":"rp","x":9.8,"y":8.5},{"k":"rp","x":10.2,"y":6.5},{"k":"rp","x":9.7,"y":13},{"k":"rp","x":10.6,"y":14.5},{"k":"rp","x":10,"y":15},{"k":"rp","x":10.4,"y":11.5},{"k":"rp","x":9.9,"y":9.5},{"k":"rp","x":10.7,"y":7},{"k":"rp","x":9.6,"y":5},{"k":"rp","x":10.3,"y":16.5},{"k":"rp","x":10.1,"y":4},{"k":"rp","x":9.8,"y":3.5},{"k":"rp","x":10.5,"y":3.8},
{"k":"rp","x":10.2,"y":13.5},{"k":"rp","x":9.8,"y":10.8},{"k":"rp","x":10.4,"y":8.5},{"k":"rp","x":9.9,"y":7.5},{"k":"rp","x":10.6,"y":5.8},{"k":"rp","x":9.5,"y":14.3},{"k":"rp","x":10.8,"y":12},{"k":"rp","x":9.3,"y":10.3},{"k":"rp","x":10.1,"y":18.3},{"k":"rp","x":10.9,"y":15.8},{"k":"rp","x":9.4,"y":6.5},{"k":"rp","x":10.7,"y":4.5}
],
"e":[
{"k":"s","g":1,"x":0,"y":0},{"k":"s","g":1,"x":35,"y":19.2},
{"k":"d","g":2,"x":0,"y":0},{"k":"d","g":2,"x":33.3,"y":-0.5},
{"k":"d","g":3,"x":0,"y":0},{"k":"d","g":3,"x":-2,"y":22.5},
{"k":"r","g":4,"x":-2.3,"y":29.7},{"k":"r","g":4,"x":-2.3,"y":24.2},{"k":"r","g":4,"x":-3.1,"y":20.8},{"k":"r","g":4,"x":-3.9,"y":17.8},{"k":"r","g":4,"x":-3.5,"y":15.4},{"k":"r","g":4,"x":-2.3,"y":12.7},{"k":"r","g":4,"x":-1.2,"y":10},{"k":"r","g":4,"x":-1,"y":8.3},
{"k":"bl","g":5,"x":-1.8,"y":18.8},{"k":"bl","g":5,"x":-3.5,"y":17.1},{"k":"bl","g":5,"x":-4.6,"y":16.2},{"k":"bl","g":5,"x":-3,"y":15.6},{"k":"bl","g":5,"x":-2,"y":15.1},{"k":"bl","g":5,"x":-1.2,"y":12.7},
{"k":"bl","g":6,"x":-1.5,"y":17.5},{"k":"bl","g":6,"x":-4.2,"y":15.8},{"k":"bl","g":6,"x":-3.5,"y":15},{"k":"bl","g":6,"x":-1.5,"y":14},
{"k":"r","g":7,"x":17.2,"y":9},{"k":"r","g":7,"x":19,"y":7.5},{"k":"r","g":7,"x":20.5,"y":6},{"k":"r","g":7,"x":22,"y":4.2},{"k":"r","g":7,"x":22.4,"y":3.9},{"k":"r","g":7,"x":22.2,"y":6},{"k":"r","g":7,"x":21.5,"y":8.5},{"k":"r","g":7,"x":21,"y":11},
{"k":"bl","g":8,"x":12.6,"y":7.3},{"k":"bl","g":8,"x":14.5,"y":6},{"k":"bl","g":8,"x":16.4,"y":4.6},{"k":"bl","g":8,"x":16.6,"y":7},{"k":"bl","g":8,"x":16.6,"y":9.3},
{"k":"bl","g":9,"x":22.5,"y":12.5},{"k":"bl","g":9,"x":24.8,"y":9.7},{"k":"bl","g":9,"x":25.1,"y":12},{"k":"bl","g":9,"x":25.2,"y":14.1},
{"k":"r","g":10,"x":6.8,"y":0.2},{"k":"r","g":10,"x":9.5,"y":-1.5},{"k":"r","g":10,"x":13,"y":-3.2},{"k":"r","g":10,"x":15.6,"y":-1.9},{"k":"r","g":10,"x":18.3,"y":-0.2},{"k":"r","g":10,"x":22.2,"y":-0.2},
{"k":"bl","g":11,"x":6.8,"y":-0.2},{"k":"bl","g":11,"x":7.5,"y":-2.5},{"k":"bl","g":11,"x":8.1,"y":-4.9},{"k":"bl","g":11,"x":8.8,"y":-2.5},{"k":"bl","g":11,"x":9.5,"y":-0.3},
{"k":"bl","g":12,"x":19.1,"y":-0.2},{"k":"bl","g":12,"x":19.7,"y":-2.5},{"k":"bl","g":12,"x":20.2,"y":-4.8},{"k":"bl","g":12,"x":20.8,"y":-2.5},{"k":"bl","g":12,"x":21.4,"y":-0.3},
{"k":"t","x":0,"y":25.1,"label":"LDA"},{"k":"t","x":29.8,"y":15.1,"label":"HDA"},{"k":"t","x":29.6,"y":-2.1,"label":"PCA"},
{"k":"bc","x":8.8,"y":17.1},{"k":"bc","x":7.8,"y":18},{"k":"bc","x":9.8,"y":16.2},{"k":"bc","x":7.2,"y":16.5},{"k":"bc","x":10.2,"y":18.5},{"k":"bc","x":8.2,"y":15},{"k":"bc","x":9.3,"y":19.5},{"k":"bc","x":7,"y":18.8},{"k":"bc","x":10.8,"y":17},{"k":"bc","x":8.5,"y":14.5},{"k":"bc","x":9.8,"y":14.8},{"k":"bc","x":6.5,"y":17.2},{"k":"bc","x":11,"y":15.8},{"k":"bc","x":8.8,"y":20},{"k":"bc","x":10,"y":20},{"k":"bc","x":6.5,"y":15.5},{"k":"bc","x":9.2,"y":18},{"k":"bc","x":8.2,"y":16.8},{"k":"bc","x":9.5,"y":17.2},{"k":"bc","x":7.5,"y":19.8},{"k":"bc","x":10.5,"y":19.5},{"k":"bc","x":7.2,"y":14.8},{"k":"bc","x":8.8,"y":15.8},{"k":"bc","x":10.3,"y":15.5},{"k":"bc","x":6.2,"y":18.5},
{"k":"bc","x":8.5,"y":17.5},{"k":"bc","x":9.3,"y":16.5},{"k":"bc","x":8,"y":16},{"k":"bc","x":9.8,"y":18.2},{"k":"bc","x":7.5,"y":17.5},{"k":"bc","x":10.5,"y":16.5},{"k":"bc","x":8.8,"y":18.8},{"k":"bc","x":7.8,"y":15.2},{"k":"bc","x":9.5,"y":15.3},{"k":"bc","x":10.7,"y":18.2},{"k":"bc","x":6.8,"y":16.3},{"k":"bc","x":9,"y":14.5},{"k":"bc","x":8.2,"y":19.3},{"k":"bc","x":10,"y":17.5},{"k":"bc","x":7.3,"y":18.2},{"k":"bc","x":11.2,"y":17.2},{"k":"bc","x":9.6,"y":20.3},{"k":"bc","x":7,"y":15.8},{"k":"bc","x":8.6,"y":15.3},{"k":"bc","x":10.1,"y":14.8},
{"k":"bc","x":20.6,"y":17.1},{"k":"bc","x":19.6,"y":18},{"k":"bc","x":21.6,"y":16.2},{"k":"bc","x":19,"y":16.5},{"k":"bc","x":22,"y":18.5},{"k":"bc","x":20,"y":15},{"k":"bc","x":21.1,"y":19.5},{"k":"bc","x":18.8,"y":18.8},{"k":"bc","x":22.6,"y":17},{"k":"bc","x":20.3,"y":14},{"k":"bc","x":21.6,"y":14.8},{"k":"bc","x":18.5,"y":17.2},{"k":"bc","x":23,"y":15.8},{"k":"bc","x":20.6,"y":20.5},{"k":"bc","x":22,"y":20.5},{"k":"bc","x":18.5,"y":15.5},{"k":"bc","x":21,"y":18},{"k":"bc","x":20,"y":16.8},{"k":"bc","x":21.3,"y":17.2},{"k":"bc","x":19.3,"y":20},{"k":"bc","x":22.8,"y":21.2},{"k":"bc","x":19,"y":14.5},{"k":"bc","x":20.6,"y":13.5},{"k":"bc","x":22.2,"y":15.2},{"k":"bc","x":23.2,"y":18.5},
{"k":"bc","x":20.3,"y":17.5},{"k":"bc","x":21.1,"y":16.5},{"k":"bc","x":19.8,"y":16},{"k":"bc","x":21.6,"y":18.2},{"k":"bc","x":19.3,"y":17.5},{"k":"bc","x":22.3,"y":16.5},{"k":"bc","x":20.6,"y":18.8},{"k":"bc","x":19.6,"y":15.2},{"k":"bc","x":21.3,"y":15.3},{"k":"bc","x":22.5,"y":18.2},{"k":"bc","x":18.6,"y":16.3},{"k":"bc","x":20.8,"y":14.5},{"k":"bc","x":20,"y":19.3},{"k":"bc","x":21.8,"y":17.5},{"k":"bc","x":19.1,"y":18.2},{"k":"bc","x":23,"y":17.2},{"k":"bc","x":21.4,"y":20.2},{"k":"bc","x":18.8,"y":15.8},{"k":"bc","x":20.4,"y":15.3},{"k":"bc","x":21.9,"y":14},{"k":"bc","x":22.5,"y":21.5},{"k":"bc","x":20,"y":21},
{"k":"rp","x":8,"y":25},{"k":"rp","x":9,"y":25.5},{"k":"rp","x":10,"y":24},{"k":"rp","x":11,"y":25},{"k":"rp","x":10.5,"y":23},{"k":"rp","x":12,"y":23.5},{"k":"rp","x":11.5,"y":22},{"k":"rp","x":12.5,"y":21.5},{"k":"rp","x":13,"y":22.5},{"k":"rp","x":13.5,"y":20.5},{"k":"rp","x":14,"y":21},{"k":"rp","x":14.5,"y":19.5},{"k":"rp","x":13,"y":19.5},{"k":"rp","x":15,"y":18.5},{"k":"rp","x":15.5,"y":17.5},{"k":"rp","x":14.5,"y":17},{"k":"rp","x":16,"y":18},{"k":"rp","x":16.5,"y":16},{"k":"rp","x":16,"y":15},{"k":"rp","x":17,"y":15.5},{"k":"rp","x":17.5,"y":14},{"k":"rp","x":18,"y":15},{"k":"rp","x":17,"y":13},{"k":"rp","x":18.5,"y":13},{"k":"rp","x":19,"y":12},{"k":"rp","x":18,"y":11.5},{"k":"rp","x":19.5,"y":13.5},{"k":"rp","x":20,"y":11},{"k":"rp","x":19,"y":10.5},{"k":"rp","x":21.5,"y":10},{"k":"rp","x":22,"y":9.7},{"k":"rp","x":20.5,"y":12.5},{"k":"rp","x":12,"y":25.5},{"k":"rp","x":9.5,"y":23},{"k":"rp","x":11,"y":21.5},{"k":"rp","x":12.5,"y":19},{"k":"rp","x":14,"y":18},{"k":"rp","x":15.5,"y":15.5},{"k":"rp","x":17.5,"y":17},{"k":"rp","x":13.5,"y":23.5},{"k":"rp","x":7.6,"y":26.6},{"k":"rp","x":8.5,"y":24},{"k":"rp","x":15,"y":20},{"k":"rp","x":16.5,"y":13.5},{"k":"rp","x":18.5,"y":10},{"k":"rp","x":12,"y":22.8},{"k":"rp","x":10,"y":26},{"k":"rp","x":20.5,"y":10.5},{"k":"rp","x":14,"y":15.8},{"k":"rp","x":16,"y":20},
{"k":"rp","x":11.5,"y":23.5},{"k":"rp","x":12.5,"y":22.5},{"k":"rp","x":13.5,"y":21.5},{"k":"rp","x":14.5,"y":20},{"k":"rp","x":15,"y":19},{"k":"rp","x":15.5,"y":18.5},{"k":"rp","x":16.5,"y":17},{"k":"rp","x":17,"y":16.5},{"k":"rp","x":17.5,"y":15.5},{"k":"rp","x":18,"y":14},{"k":"rp","x":18.5,"y":14.5},{"k":"rp","x":19,"y":13},{"k":"rp","x":13,"y":21},{"k":"rp","x":14,"y":19.5},{"k":"rp","x":16,"y":16.5},{"k":"rp","x":10.5,"y":24.5},{"k":"rp","x":19.5,"y":11.5},{"k":"rp","x":20.5,"y":11.5},{"k":"rp","x":12,"y":24.5},{"k":"rp","x":15.5,"y":19.5},
{"k":"rp","x":12.2,"y":23.8},{"k":"rp","x":13.2,"y":22},{"k":"rp","x":14.3,"y":20.7},{"k":"rp","x":15.3,"y":18.8},{"k":"rp","x":16.3,"y":17.6},{"k":"rp","x":17.3,"y":15.8},{"k":"rp","x":18.3,"y":13.6},{"k":"rp","x":19.2,"y":12.3},{"k":"rp","x":11,"y":23.8},{"k":"rp","x":14.8,"y":21.5}
]
},
"vconcat":[
{"hconcat":[
{"width":218,"height":186,"data":{"name":"a"},
"encoding":{"x":{"field":"x","type":"quantitative","scale":{"domain":[-10,40],"nice":false,"zero":false},"axis":{"values":[-10,0,10,20,30,40],"title":"(a) Case 1","labelFont":"Liberation Serif","labelFontSize":16}},
"y":{"field":"y","type":"quantitative","scale":{"domain":[-10,30],"nice":false,"zero":false},"axis":{"values":[-10,0,10,20,30],"title":null,"labelFont":"Liberation Serif","labelFontSize":16}}},
"layer":[
{"transform":[{"filter":"datum.k==='bc'"}],"mark":{"type":"point","shape":"circle","filled":false,"color":"#0000ff","size":70,"strokeWidth":1.3,"opacity":1}},
{"transform":[{"filter":"datum.k==='rp'"}],"mark":{"type":"point","shape":"M-1,0L1,0M0,-1L0,1","filled":false,"color":"#ff0000","size":80,"strokeWidth":1.3,"opacity":1}},
{"transform":[{"filter":"datum.k==='s'"},{"window":[{"op":"row_number","as":"o"}]}],"mark":{"type":"line","color":"#000000","strokeWidth":1},"encoding":{"detail":{"field":"g"},"order":{"field":"o","type":"quantitative"}}},
{"transform":[{"filter":"datum.k==='d'"},{"window":[{"op":"row_number","as":"o"}]}],"mark":{"type":"line","color":"#000000","strokeWidth":1,"strokeDash":[8,5]},"encoding":{"detail":{"field":"g"},"order":{"field":"o","type":"quantitative"}}},
{"transform":[{"filter":"datum.k==='r'"},{"window":[{"op":"row_number","as":"o"}]}],"mark":{"type":"line","color":"#ff0000","strokeWidth":2.5,"interpolate":"catmull-rom"},"encoding":{"detail":{"field":"g"},"order":{"field":"o","type":"quantitative"}}},
{"transform":[{"filter":"datum.k==='bl'"},{"window":[{"op":"row_number","as":"o"}]}],"mark":{"type":"line","color":"#0000ff","strokeWidth":1,"interpolate":"catmull-rom"},"encoding":{"detail":{"field":"g"},"order":{"field":"o","type":"quantitative"}}},
{"transform":[{"filter":"datum.k==='t'"}],"mark":{"type":"text","align":"left","baseline":"middle","font":"Liberation Sans","fontSize":15,"color":"#000000"},"encoding":{"text":{"field":"label"}}}
]},
{"width":218,"height":186,"data":{"name":"b"},
"encoding":{"x":{"field":"x","type":"quantitative","scale":{"domain":[-10,40],"nice":false,"zero":false},"axis":{"values":[-10,0,10,20,30,40],"title":"(b) Case 2"}},
"y":{"field":"y","type":"quantitative","scale":{"domain":[-10,30],"nice":false,"zero":false},"axis":{"values":[-10,0,10,20,30],"title":null}}},
"layer":[
{"transform":[{"filter":"datum.k==='bc'"}],"mark":{"type":"point","shape":"circle","filled":false,"color":"#0000ff","size":70,"strokeWidth":1.3,"opacity":1}},
{"transform":[{"filter":"datum.k==='rp'"}],"mark":{"type":"point","shape":"M-1,0L1,0M0,-1L0,1","filled":false,"color":"#ff0000","size":80,"strokeWidth":1.3,"opacity":1}},
{"transform":[{"filter":"datum.k==='s'"},{"window":[{"op":"row_number","as":"o"}]}],"mark":{"type":"line","color":"#000000","strokeWidth":1},"encoding":{"detail":{"field":"g"},"order":{"field":"o","type":"quantitative"}}},
{"transform":[{"filter":"datum.k==='d'"},{"window":[{"op":"row_number","as":"o"}]}],"mark":{"type":"line","color":"#000000","strokeWidth":1,"strokeDash":[8,5]},"encoding":{"detail":{"field":"g"},"order":{"field":"o","type":"quantitative"}}},
{"transform":[{"filter":"datum.k==='r'"},{"window":[{"op":"row_number","as":"o"}]}],"mark":{"type":"line","color":"#ff0000","strokeWidth":2.5,"interpolate":"catmull-rom"},"encoding":{"detail":{"field":"g"},"order":{"field":"o","type":"quantitative"}}},
{"transform":[{"filter":"datum.k==='bl'"},{"window":[{"op":"row_number","as":"o"}]}],"mark":{"type":"line","color":"#0000ff","strokeWidth":1,"interpolate":"catmull-rom"},"encoding":{"detail":{"field":"g"},"order":{"field":"o","type":"quantitative"}}},
{"transform":[{"filter":"datum.k==='t'"}],"mark":{"type":"text","align":"left","baseline":"middle","font":"Liberation Sans","fontSize":15,"color":"#000000"},"encoding":{"text":{"field":"label"}}}
]}
],"spacing":22},
{"hconcat":[
{"width":218,"height":202,"data":{"name":"c"},
"encoding":{"x":{"field":"x","type":"quantitative","scale":{"domain":[-10,40],"nice":false,"zero":false},"axis":{"values":[-10,0,10,20,30,40],"title":"(c) Case 3"}},
"y":{"field":"y","type":"quantitative","scale":{"domain":[-10,30],"nice":false,"zero":false},"axis":{"values":[-10,0,10,20,30],"title":null}}},
"layer":[
{"transform":[{"filter":"datum.k==='bc'"}],"mark":{"type":"point","shape":"circle","filled":false,"color":"#0000ff","size":70,"strokeWidth":1.3,"opacity":1}},
{"transform":[{"filter":"datum.k==='rp'"}],"mark":{"type":"point","shape":"M-1,0L1,0M0,-1L0,1","filled":false,"color":"#ff0000","size":80,"strokeWidth":1.3,"opacity":1}},
{"transform":[{"filter":"datum.k==='s'"},{"window":[{"op":"row_number","as":"o"}]}],"mark":{"type":"line","color":"#000000","strokeWidth":1},"encoding":{"detail":{"field":"g"},"order":{"field":"o","type":"quantitative"}}},
{"transform":[{"filter":"datum.k==='d'"},{"window":[{"op":"row_number","as":"o"}]}],"mark":{"type":"line","color":"#000000","strokeWidth":1,"strokeDash":[8,5]},"encoding":{"detail":{"field":"g"},"order":{"field":"o","type":"quantitative"}}},
{"transform":[{"filter":"datum.k==='ld'"},{"window":[{"op":"row_number","as":"o"}]}],"mark":{"type":"line","color":"#000000","strokeWidth":1,"strokeDash":[14,9]},"encoding":{"detail":{"field":"g"},"order":{"field":"o","type":"quantitative"}}},
{"transform":[{"filter":"datum.k==='r'"},{"window":[{"op":"row_number","as":"o"}]}],"mark":{"type":"line","color":"#ff0000","strokeWidth":2.5,"interpolate":"catmull-rom"},"encoding":{"detail":{"field":"g"},"order":{"field":"o","type":"quantitative"}}},
{"transform":[{"filter":"datum.k==='bl'"},{"window":[{"op":"row_number","as":"o"}]}],"mark":{"type":"line","color":"#0000ff","strokeWidth":1,"interpolate":"catmull-rom"},"encoding":{"detail":{"field":"g"},"order":{"field":"o","type":"quantitative"}}},
{"transform":[{"filter":"datum.k==='t'"}],"mark":{"type":"text","align":"left","baseline":"middle","font":"Liberation Sans","fontSize":15,"color":"#000000"},"encoding":{"text":{"field":"label"}}}
]},
{"width":217,"height":202,"data":{"name":"d"},
"encoding":{"x":{"field":"x","type":"quantitative","scale":{"domain":[-10,40],"nice":false,"zero":false},"axis":{"values":[-10,0,10,20,30,40],"title":"(d) Case 4"}},
"y":{"field":"y","type":"quantitative","scale":{"domain":[-10,30],"nice":false,"zero":false},"axis":{"values":[-10,0,10,20,30],"title":null}}},
"layer":[
{"transform":[{"filter":"datum.k==='bc'"}],"mark":{"type":"point","shape":"circle","filled":false,"color":"#0000ff","size":70,"strokeWidth":1.3,"opacity":1}},
{"transform":[{"filter":"datum.k==='rp'"}],"mark":{"type":"point","shape":"M-1,0L1,0M0,-1L0,1","filled":false,"color":"#ff0000","size":80,"strokeWidth":1.3,"opacity":1}},
{"transform":[{"filter":"datum.k==='gr'"},{"window":[{"op":"row_number","as":"o"}]}],"mark":{"type":"line","color":"#404040","strokeWidth":2},"encoding":{"detail":{"field":"g"},"order":{"field":"o","type":"quantitative"}}},
{"transform":[{"filter":"datum.k==='s'"},{"window":[{"op":"row_number","as":"o"}]}],"mark":{"type":"line","color":"#000000","strokeWidth":1},"encoding":{"detail":{"field":"g"},"order":{"field":"o","type":"quantitative"}}},
{"transform":[{"filter":"datum.k==='r'"},{"window":[{"op":"row_number","as":"o"}]}],"mark":{"type":"line","color":"#ff0000","strokeWidth":2.5,"interpolate":"catmull-rom"},"encoding":{"detail":{"field":"g"},"order":{"field":"o","type":"quantitative"}}},
{"transform":[{"filter":"datum.k==='bl'"},{"window":[{"op":"row_number","as":"o"}]}],"mark":{"type":"line","color":"#0000ff","strokeWidth":1.3,"interpolate":"catmull-rom"},"encoding":{"detail":{"field":"g"},"order":{"field":"o","type":"quantitative"}}},
{"transform":[{"filter":"datum.k==='t'"}],"mark":{"type":"text","align":"left","baseline":"middle","font":"Liberation Sans","fontSize":15,"color":"#000000"},"encoding":{"text":{"field":"label"}}}
]}
],"spacing":22},
{"width":218,"height":197,"data":{"name":"e"},
"encoding":{"x":{"field":"x","type":"quantitative","scale":{"domain":[-10,40],"nice":false,"zero":false},"axis":{"values":[-10,0,10,20,30,40],"title":"(e) Case 5"}},
"y":{"field":"y","type":"quantitative","scale":{"domain":[-10,30],"nice":false,"zero":false},"axis":{"values":[-10,0,10,20,30],"title":null}}},
"layer":[
{"transform":[{"filter":"datum.k==='bc'"}],"mark":{"type":"point","shape":"circle","filled":false,"color":"#0000ff","size":70,"strokeWidth":1.3,"opacity":1}},
{"transform":[{"filter":"datum.k==='rp'"}],"mark":{"type":"point","shape":"M-1,0L1,0M0,-1L0,1","filled":false,"color":"#ff0000","size":80,"strokeWidth":1.3,"opacity":1}},
{"transform":[{"filter":"datum.k==='s'"},{"window":[{"op":"row_number","as":"o"}]}],"mark":{"type":"line","color":"#000000","strokeWidth":1},"encoding":{"detail":{"field":"g"},"order":{"field":"o","type":"quantitative"}}},
{"transform":[{"filter":"datum.k==='d'"},{"window":[{"op":"row_number","as":"o"}]}],"mark":{"type":"line","color":"#000000","strokeWidth":1,"strokeDash":[8,5]},"encoding":{"detail":{"field":"g"},"order":{"field":"o","type":"quantitative"}}},
{"transform":[{"filter":"datum.k==='r'"},{"window":[{"op":"row_number","as":"o"}]}],"mark":{"type":"line","color":"#ff0000","strokeWidth":2.5,"interpolate":"catmull-rom"},"encoding":{"detail":{"field":"g"},"order":{"field":"o","type":"quantitative"}}},
{"transform":[{"filter":"datum.k==='bl'"},{"window":[{"op":"row_number","as":"o"}]}],"mark":{"type":"line","color":"#0000ff","strokeWidth":1,"interpolate":"catmull-rom"},"encoding":{"detail":{"field":"g"},"order":{"field":"o","type":"quantitative"}}},
{"transform":[{"filter":"datum.k==='t'"}],"mark":{"type":"text","align":"left","baseline":"middle","font":"Liberation Sans","fontSize":15,"color":"#000000"},"encoding":{"text":{"field":"label"}}}
]}
],"spacing":18,"center":true
}
